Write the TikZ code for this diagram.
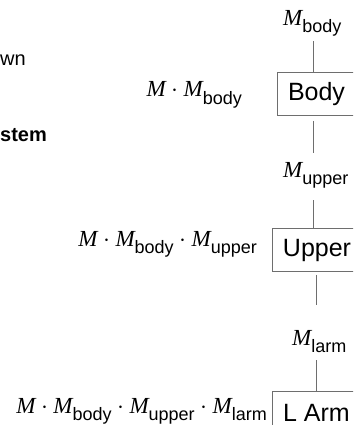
\documentclass[tikz,border=0pt]{standalone}
\usepackage{fontspec}
\setmainfont{Liberation Sans}
\newfontfamily\mitfont{Liberation Serif}
\definecolor{linegray}{RGB}{110, 110, 110}
\usepackage{tikz}
\usetikzlibrary{positioning, calc}

\newcommand{\Mit}{{\mitfont\itshape M}}
\newcommand{\Mx}[1]{\Mit\raisebox{-7pt}{\fontsize{18}{18}\selectfont #1}}
\newcommand{\mdot}{\hspace{5.5pt}$\cdot$\hspace{5.5pt}}

\begin{document}
\begin{tikzpicture}[x=1pt, y=-1pt,
    partbox/.style={draw=linegray, line width=0.8pt, fill=white, font=\fontsize{25}{25}\selectfont,
      minimum height=43pt, inner xsep=10.5pt, inner ysep=0pt},
    matlbl/.style={font=\fontsize{23}{23}\selectfont, inner sep=0pt, anchor=base west},
    link/.style={draw=linegray, line width=0.8pt}]
  \useasboundingbox (0,0) rectangle (353,425);
  \clip (0,0) rectangle (353,425);

  % Slide text on the left
  \node[font=\fontsize{20}{20}\selectfont, inner sep=0pt, anchor=base west] (wn) at (0,66) {wn};
  \node[font=\fontsize{20}{20}\selectfont\bfseries, inner sep=0pt, anchor=base west] (stem) at (0,141) {stem};

  % Hierarchy
  \node[matlbl] (mbody) at (283,26) {\Mx{body}};
  \node[partbox] (body) at (316.5,94) {Body};
  \node[matlbl] (mupper) at (283,177) {\Mx{upper}};
  \node[partbox] (upper) at (317,250) {Upper};
  \node[matlbl] (mlarm) at (292,345) {\Mx{larm}};
  \node[partbox] (larm) at (316.5,412.5) {L Arm};

  \draw[link] ([xshift=-3.5pt]body.north) -- ++(0,-31);
  \draw[link] ([xshift=-3.5pt, yshift=-5pt]body.south) -- ++(0,32);
  \draw[link] ([xshift=-4pt]upper.north) -- ++(0,-28);
  \draw[link] ([xshift=-1pt, yshift=-3pt]upper.south) -- ++(0,30);
  \draw[link] ([xshift=-0.5pt]larm.north) -- ++(0,-31);

  % Accumulated matrices
  \node[matlbl, anchor=base east] (acc1) at (242,97) {\Mit\mdot\Mx{body}};
  \node[matlbl, anchor=base east] (acc2) at (257,246) {\Mit\mdot\Mx{body}\mdot\Mx{upper}};
  \node[matlbl, anchor=base east] (acc3) at (267,413) {\Mit\mdot\Mx{body}\mdot\Mx{upper}\mdot\Mx{larm}};
\end{tikzpicture}
\end{document}
